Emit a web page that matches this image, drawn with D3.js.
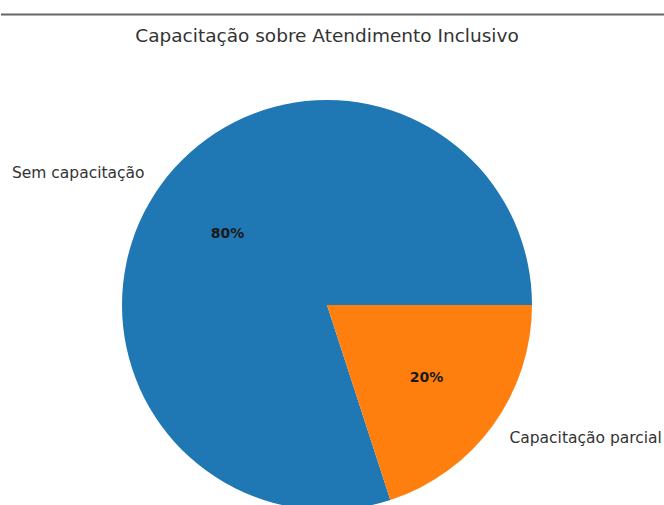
<!DOCTYPE html>
<html lang="pt">
<head>
<meta charset="utf-8">
<title>Capacitação sobre Atendimento Inclusivo</title>
<script src="https://cdn.jsdelivr.net/npm/d3@7"></script>
<style>
  html, body { margin: 0; padding: 0; background: #fff; overflow: hidden; }
  text { font-family: "DejaVu Sans", sans-serif; }
  .title { font-size: 18.5px; fill: #333; text-anchor: middle; }
  .lbl { font-size: 15.5px; fill: #333; }
  .pct { font-size: 14px; font-weight: bold; fill: #1a1a1a; text-anchor: middle; }
</style>
</head>
<body>
<div id="chart"></div>
<script>
  // data
  var categories = ["Sem capacitação", "Capacitação parcial"];
  var values = [80, 20];
  var colors = ["#1f77b4", "#ff7f0e"];

  var w = 664, h = 505;
  var cx = 327, cy = 305, r = 205;

  var svg = d3.select("#chart").append("svg")
      .attr("width", w).attr("height", h);

  // rule line at top
  svg.append("line")
      .attr("x1", 1).attr("x2", w)
      .attr("y1", 14.5).attr("y2", 14.5)
      .attr("stroke", "#666").attr("stroke-width", 2);

  svg.append("text")
      .attr("class", "title")
      .attr("x", cx).attr("y", 42)
      .text("Capacitação sobre Atendimento Inclusivo");

  // matplotlib style: start at 3 o'clock, counter-clockwise
  var pie = d3.pie().sort(null)
      .startAngle(Math.PI / 2)
      .endAngle(Math.PI / 2 - 2 * Math.PI)
      .value(function(d) { return d; });

  var arcs = pie(values);
  var arc = d3.arc().innerRadius(0).outerRadius(r);

  var g = svg.append("g").attr("transform", "translate(" + cx + "," + cy + ")");

  g.selectAll("path")
    .data(arcs)
    .enter()
    .append("path")
    .attr("d", arc)
    .attr("fill", function(d, i) { return colors[i]; });

  function pos(d, k) {
    var a = (d.startAngle + d.endAngle) / 2;
    return [k * r * Math.sin(a), -k * r * Math.cos(a)];
  }

  g.selectAll("text.pct")
    .data(arcs)
    .enter()
    .append("text")
    .attr("class", "pct")
    .attr("x", function(d) { return pos(d, 0.6)[0]; })
    .attr("y", function(d) { return pos(d, 0.6)[1]; })
    .attr("dy", "0.35em")
    .text(function(d) { return Math.round(d.value / d3.sum(values) * 100) + "%"; });

  g.selectAll("text.lbl")
    .data(arcs)
    .enter()
    .append("text")
    .attr("class", "lbl")
    .attr("x", function(d) { return pos(d, 1.1)[0]; })
    .attr("y", function(d) { return pos(d, 1.1)[1]; })
    .attr("dy", "0.35em")
    .attr("text-anchor", function(d) { return pos(d, 1.1)[0] < 0 ? "end" : "start"; })
    .text(function(d, i) { return categories[i]; });
</script>
</body>
</html>
